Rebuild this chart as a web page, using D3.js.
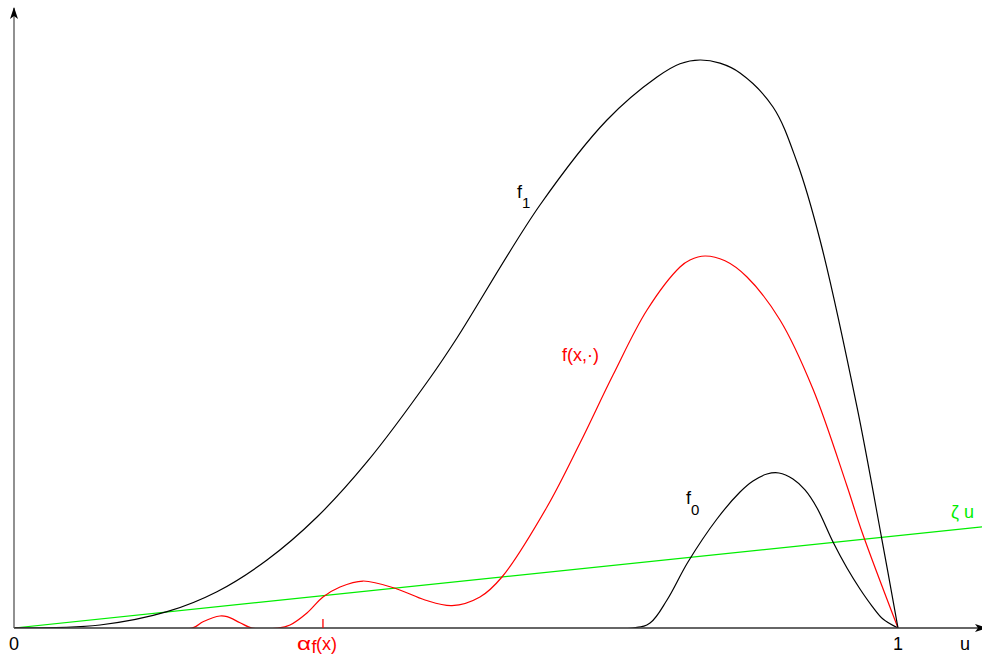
<!DOCTYPE html>
<html>
<head>
<meta charset="utf-8">
<script src="https://cdn.jsdelivr.net/npm/d3@7"></script>
<style>
  body { margin: 0; background: #fff; }
  svg { display: block; }
  text { font-family: "Liberation Sans", Arial, sans-serif; font-size: 18px; }
</style>
</head>
<body>
<div id="main"></div>
<script>
// u positions and values (f1 peak = 1)
const f1U = [0, 0.0973, 0.1731, 0.2296, 0.2862, 0.3428, 0.3993, 0.4706, 0.5011, 0.5950, 0.6708, 0.7274, 0.7534, 0.7760, 0.7986, 0.8213, 0.8586, 0.8857, 0.9118, 0.9536, 0.9819, 1.0];
const f1V = [0, 0.0053, 0.0287, 0.0639, 0.1197, 0.1954, 0.2923, 0.4401, 0.5106, 0.7447, 0.8944, 0.9701, 0.9935, 1.0, 0.9944, 0.9771, 0.9173, 0.8204, 0.6831, 0.3891, 0.1549, 0];

const fxU = [0, 0.2014, 0.2138, 0.2330, 0.2410, 0.2557, 0.2692, 0.2986, 0.3122, 0.3314, 0.3495, 0.3688, 0.3948, 0.4333, 0.4649, 0.4955, 0.5271, 0.5520, 0.6029, 0.6403, 0.6776, 0.7161, 0.7534, 0.7647, 0.7817, 0.8043, 0.8292, 0.8665, 0.9038, 0.9423, 0.9593, 1.0];
const fxV = [0, 0, 0.0111, 0.0211, 0.0199, 0.0093, 0, 0, 0.0053, 0.0264, 0.0546, 0.0722, 0.0827, 0.0687, 0.0493, 0.0393, 0.0546, 0.0898, 0.2130, 0.3257, 0.4454, 0.5599, 0.6356, 0.6479, 0.6549, 0.6465, 0.6180, 0.5423, 0.4208, 0.2500, 0.1690, 0];

const f0U = [0, 0.7002, 0.7195, 0.7387, 0.7624, 0.7952, 0.8213, 0.8360, 0.8518, 0.8654, 0.8812, 0.8948, 0.9084, 0.9265, 0.9423, 0.9570, 0.9706, 0.9830, 1.0];
const f0V = [0, 0, 0.0088, 0.0493, 0.1162, 0.1919, 0.2394, 0.2588, 0.2711, 0.2729, 0.2623, 0.2430, 0.2113, 0.1514, 0.1056, 0.0687, 0.0387, 0.0158, 0];

const zetaU = [0, 1.095];
const zetaV = [0, 0.178];

const alphaU = 0.3495;

const W = 982, H = 656;
const x = d3.scaleLinear().domain([0, 1]).range([14, 898]);
const y = d3.scaleLinear().domain([0, 1]).range([628, 60]);

const RED = "#ff0000";
const GREEN = "#00ee00";

const svg = d3.select("#main").append("svg")
  .attr("width", W).attr("height", H)
  .attr("xmlns", "http://www.w3.org/2000/svg");

const defs = svg.append("defs");
defs.append("marker")
  .attr("id", "arrow")
  .attr("viewBox", "0 -5 12 10")
  .attr("refX", 11)
  .attr("markerWidth", 12)
  .attr("markerHeight", 10)
  .attr("markerUnits", "userSpaceOnUse")
  .attr("orient", "auto")
  .append("path")
  .attr("d", "M0,-4L12,0L0,4L3,0Z")
  .attr("fill", "#000");

// keep curves above the u axis
defs.append("clipPath").attr("id", "above")
  .append("rect").attr("x", 0).attr("y", 0).attr("width", W).attr("height", y(0));

const zip = (us, vs) => us.map((u, i) => [u, vs[i]]);
const smooth = d3.curveCatmullRom.alpha(0.5);

const series = [
  { pts: zip(zetaU, zetaV), color: GREEN, curve: d3.curveLinear },
  { pts: zip(fxU, fxV), color: RED, curve: smooth },
  { pts: zip(f1U, f1V), color: "#000", curve: smooth },
  { pts: zip(f0U, f0V), color: "#000", curve: smooth }
];

const curves = svg.append("g").attr("clip-path", "url(#above)");
series.forEach(s => {
  const line = d3.line().x(d => x(d[0])).y(d => y(d[1])).curve(s.curve);
  curves.append("path")
    .attr("d", line(s.pts))
    .attr("fill", "none")
    .attr("stroke", s.color)
    .attr("stroke-width", 1.2);
});

// axes
svg.append("line")
  .attr("x1", x(0)).attr("y1", y(0))
  .attr("x2", 986).attr("y2", y(0))
  .attr("stroke", "#333").attr("stroke-width", 1.5)
  .attr("marker-end", "url(#arrow)");
svg.append("line")
  .attr("x1", x(0)).attr("y1", y(0))
  .attr("x2", x(0)).attr("y2", 8)
  .attr("stroke", "#555").attr("stroke-width", 1.3)
  .attr("marker-end", "url(#arrow)");

// alpha tick
svg.append("line")
  .attr("x1", x(alphaU)).attr("x2", x(alphaU))
  .attr("y1", y(0) - 9).attr("y2", y(0))
  .attr("stroke", RED).attr("stroke-width", 1.3);

// axis labels
[["0", x(0)], ["1", x(1)], ["u", 965]].forEach(([t, px]) => {
  svg.append("text").attr("x", px).attr("y", 650)
    .attr("text-anchor", "middle").text(t);
});

svg.append("text")
  .attr("transform", "translate(297,650) scale(1.35,1)")
  .attr("fill", RED).text("α");
svg.append("text").attr("x", 311.5).attr("y", 653)
  .attr("font-size", 9).attr("fill", RED).text("f");
svg.append("text").attr("x", 316).attr("y", 650)
  .attr("fill", RED).text("(x)");

// curve labels
const f1 = svg.append("text").attr("x", 517).attr("y", 198);
f1.append("tspan").text("f");
f1.append("tspan").attr("dy", 10).attr("font-size", 15).text("1");

const f0 = svg.append("text").attr("x", 686).attr("y", 504);
f0.append("tspan").text("f");
f0.append("tspan").attr("dy", 11).attr("font-size", 15).text("0");

svg.append("text").attr("x", 562).attr("y", 361)
  .attr("fill", RED).text("f(x,·)");

svg.append("text").attr("x", 951).attr("y", 518)
  .attr("fill", GREEN).text("ζ u");
</script>
</body>
</html>
